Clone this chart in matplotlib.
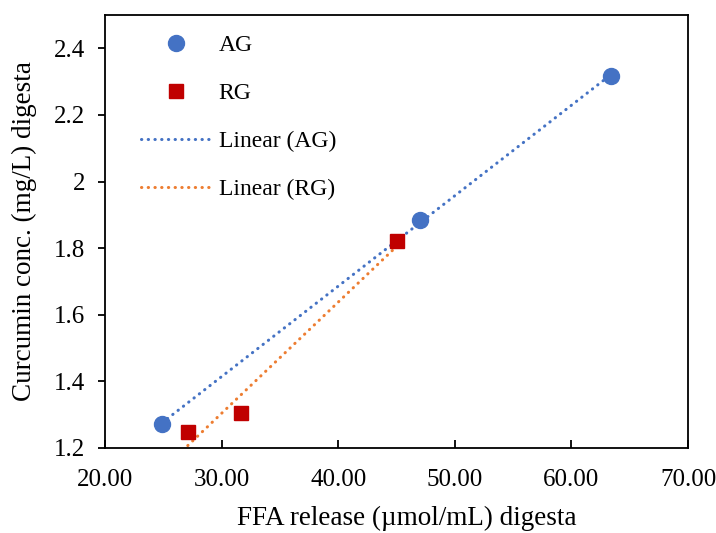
import matplotlib.pyplot as plt
import numpy as np
from matplotlib.ticker import FuncFormatter

# FFA release vs curcumin concentration for the two groups
ag_ffa = [24.9, 47.0, 63.4]
ag_curc = [1.272, 1.885, 2.316]
rg_ffa = [27.1, 31.65, 45.05]
rg_curc = [1.247, 1.306, 1.820]

col_ag = '#4472C4'
col_rg = '#C00000'
col_rg_fit = '#ED7D31'


def fit_line(x, y):
	k, b = np.polyfit(x, y, 1)
	xs = np.array([min(x), max(x)])
	return xs, k * xs + b


def main():
	plt.rcParams['font.family'] = ['Liberation Serif', 'DejaVu Serif']

	fig = plt.figure(figsize=(7.16, 5.33), dpi=100)
	ax = fig.add_axes([105 / 716, 1 - 448 / 533, 583 / 716, 433 / 533])

	ax.plot(ag_ffa, ag_curc, 'o', color=col_ag, markersize=11.5, label='AG', zorder=3)
	ax.plot(rg_ffa, rg_curc, 's', color=col_rg, markersize=10.5, label='RG', zorder=3)

	dots = (0, (0.1, 2.1))
	xs, ys = fit_line(ag_ffa, ag_curc)
	ax.plot(xs, ys, color=col_ag, lw=2.2, linestyle=dots,
		dash_capstyle='round', label='Linear (AG)', zorder=2)
	xs, ys = fit_line(rg_ffa, rg_curc)
	ax.plot(xs, ys, color=col_rg_fit, lw=2.2, linestyle=dots,
		dash_capstyle='round', label='Linear (RG)', zorder=2)

	ax.set_xlim(20, 70)
	ax.set_ylim(1.2, 2.5)
	ax.set_xticks(np.arange(20, 71, 10))
	ax.set_yticks(np.arange(1.2, 2.41, 0.2))
	ax.xaxis.set_major_formatter(FuncFormatter(lambda v, p: '%.2f' % v))
	ax.yaxis.set_major_formatter(FuncFormatter(lambda v, p: ('%.1f' % v).rstrip('0').rstrip('.')))

	ax.tick_params(axis='x', direction='in', length=6, width=1.3, labelsize=18, pad=15)
	ax.tick_params(axis='y', direction='out', length=5, width=1.3, labelsize=18, pad=9)
	for sp in ax.spines.values():
		sp.set_linewidth(1.3)

	ax.set_xlabel('FFA release (µmol/mL) digesta', fontsize=19.5)
	ax.xaxis.set_label_coords(0.518, -0.133)
	ax.set_ylabel('Curcumin conc. (mg/L) digesta', fontsize=19.5, labelpad=12.5)

	ax.legend(loc='upper left', frameon=False, fontsize=17, handlelength=3.0,
		handletextpad=0.3, labelspacing=1.12, borderaxespad=0.0,
		bbox_to_anchor=(0.045, 0.976))

	fig.savefig('out.png', dpi=100)


if __name__ == "__main__":
	main()
